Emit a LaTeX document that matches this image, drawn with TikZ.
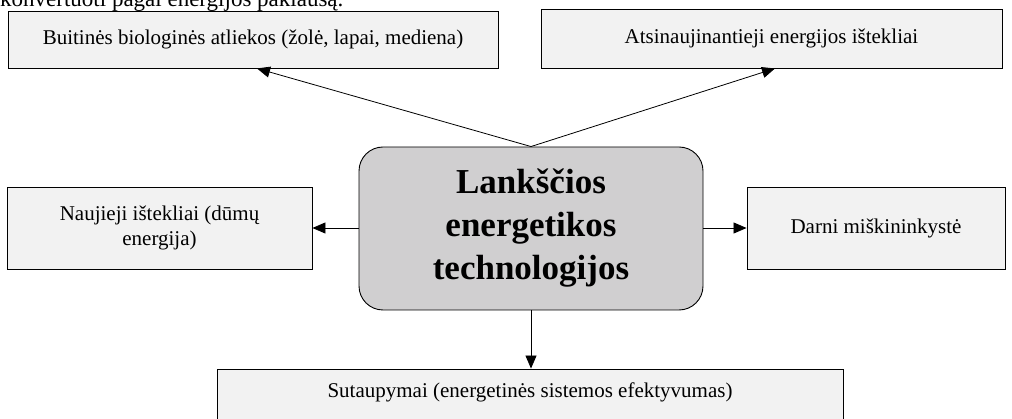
\documentclass[tikz,border=0pt]{standalone}
\usepackage{fontspec}
\setmainfont{Liberation Serif}
\usetikzlibrary{arrows.meta}
\definecolor{boxfill}{HTML}{F2F2F2}
\definecolor{corefill}{HTML}{D0CFD0}
\tikzset{
  srcbox/.style={draw=black, line width=0.9pt, fill=boxfill, align=center,
    font=\fontsize{21}{25}\selectfont, inner sep=0pt},
  corebox/.style={draw=black, line width=0.9pt, fill=corefill, rounded corners=24pt,
    align=center, font=\fontsize{35}{43}\selectfont\bfseries, inner sep=0pt},
  link/.style={line width=0.8pt, -{Triangle[length=13pt,width=11pt]}}
}
\begin{document}
\begin{tikzpicture}[x=1pt,y=-1pt]
  \useasboundingbox (0,0) rectangle (1012,419);
  \clip (0,0) rectangle (1012,419);
  % line of body text running above the figure
  \node[anchor=base west, inner sep=0pt, font=\fontsize{23}{27}\selectfont] (prev) at (0,7)
    {konvertuoti pagal energijos paklausą.};
  % central technology block
  \node[corebox, minimum width=344pt, minimum height=163pt] (core) at (531,228.5)
    {Lankščios\\energetikos\\technologijos};
  % surrounding resource boxes
  \node[srcbox, minimum width=490pt, minimum height=57pt] (bio) at (253,39.5)
    {Buitinės biologinės atliekos (žolė, lapai, mediena)};
  \node[srcbox, minimum width=461pt, minimum height=59pt] (renew) at (771.5,38.5)
    {Atsinaujinantieji energijos ištekliai};
  \node[srcbox, minimum width=305pt, minimum height=82pt] (smoke) at (159.5,228)
    {Naujieji ištekliai (dūmų\\energija)};
  \node[srcbox, minimum width=626pt, minimum height=80pt] (save) at (530,409) {};
  \node[srcbox, minimum width=258pt, minimum height=82pt] (forest) at (876,228)
    {Darni miškininkystė};
  \node[font=\fontsize{21}{25}\selectfont, inner sep=0pt] (savetext) at (530,392)
    {Sutaupymai (energetinės sistemos efektyvumas)};
  % connectors
  \coordinate (hub) at (core.north);
  \draw[link] (hub) -- (bio.south -| 257,0);
  \draw[link] (hub) -- (renew.south -| 775,0);
  \draw[link] (core.west |- smoke.east) -- (smoke.east);
  \draw[link] (core.east |- forest.west) -- (forest.west);
  \draw[link] (core.south) -- (save.north -| core.south);
\end{tikzpicture}
\end{document}
